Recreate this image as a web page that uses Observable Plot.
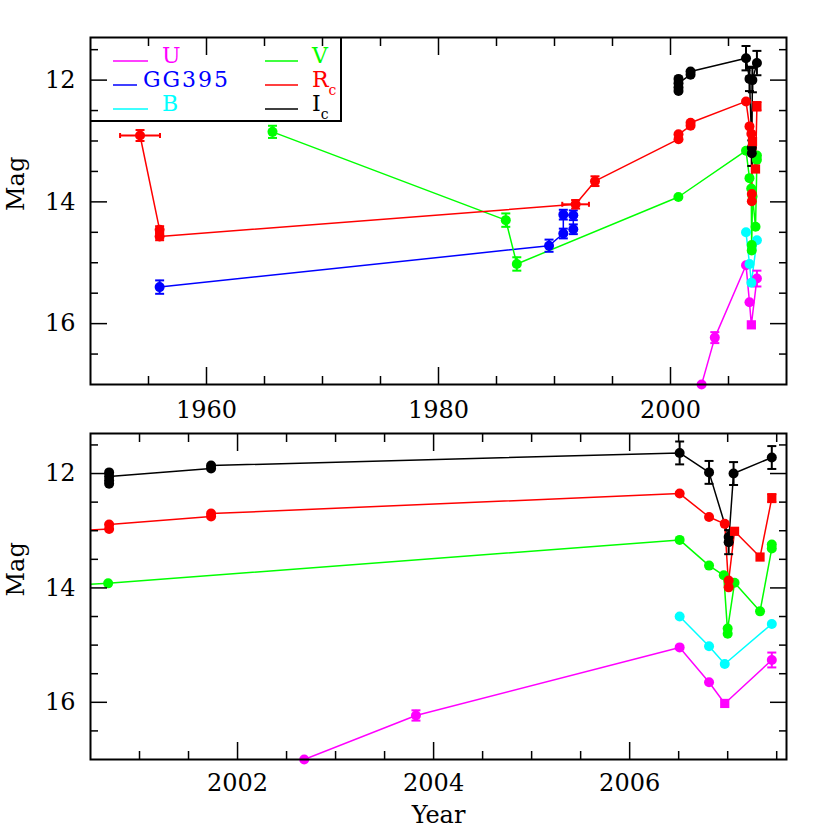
<!DOCTYPE html>
<html><head><meta charset="utf-8">
<script src="https://cdn.jsdelivr.net/npm/d3@7"></script>
<script src="https://cdn.jsdelivr.net/npm/@observablehq/plot@0.6"></script>
<style>
body{margin:0;background:#fff;}
#chart{position:relative;width:830px;height:830px;font-family:"DejaVu Serif",serif;background:#fff;}
#chart > svg{position:absolute;left:0;}
</style></head><body><div id="chart"></div>
<script>
// rows: [year, mag, yErr, xErr, shape]  (shape "c" circle, "s" square)
const U = [
  [2002.68, 17.00, 0, 0, "c"],
  [2003.82, 16.23, 0.09, 0, "c"],
  [2006.51, 15.04, 0, 0, "c"],
  [2006.81, 15.65, 0, 0, "c"],
  [2006.97, 16.02, 0, 0, "s"],
  [2007.45, 15.26, 0.13, 0, "c"]
];
const GG395 = [
  [1955.96, 15.40, 0.11, 0, "c"],
  [1989.53, 14.72, 0.10, 0, "c"],
  [1990.76, 14.52, 0.08, 0, "c"],
  [1990.76, 14.21, 0.08, 0, "c"],
  [1991.62, 14.22, 0.08, 0, "c"],
  [1991.62, 14.45, 0.08, 0, "c"]
];
const B = [
  [2006.51, 14.50, 0, 0, "c"],
  [2006.81, 15.02, 0, 0, "c"],
  [2006.97, 15.33, 0, 0, "c"],
  [2007.45, 14.63, 0, 0, "c"]
];
const V = [
  [1965.69, 12.85, 0.10, 0, "c"],
  [1985.80, 14.30, 0.11, 0, "c"],
  [1986.75, 15.02, 0.11, 0, "c"],
  [2000.68, 13.92, 0, 0, "c"],
  [2006.51, 13.16, 0, 0, "c"],
  [2006.81, 13.61, 0, 0, "c"],
  [2006.96, 13.78, 0, 0, "c"],
  [2007.00, 14.80, 0, 0, "c"],
  [2007.00, 14.71, 0, 0, "c"],
  [2007.07, 13.91, 0, 0, "c"],
  [2007.33, 14.41, 0, 0, "c"],
  [2007.45, 13.31, 0, 0, "c"],
  [2007.45, 13.24, 0, 0, "c"]
];
const Rc = [
  [1954.27, 12.91, 0.09, 1.72, "c"],
  [1955.96, 14.46, 0.06, 0, "c"],
  [1955.96, 14.57, 0.06, 0, "c"],
  [1991.82, 14.04, 0.07, 1.15, "c"],
  [1993.49, 13.66, 0.08, 0, "c"],
  [2000.69, 12.97, 0, 0, "c"],
  [2000.69, 12.89, 0, 0, "c"],
  [2001.73, 12.75, 0, 0, "c"],
  [2001.73, 12.70, 0, 0, "c"],
  [2006.51, 12.35, 0, 0, "c"],
  [2006.81, 12.76, 0, 0, "c"],
  [2006.97, 12.88, 0, 0, "c"],
  [2007.01, 13.99, 0, 0, "c"],
  [2007.01, 13.87, 0, 0, "c"],
  [2007.07, 13.01, 0, 0, "s"],
  [2007.33, 13.46, 0, 0, "s"],
  [2007.45, 12.43, 0.07, 0, "s"]
];
const Ic = [
  [2000.69, 11.98, 0, 0, "c"],
  [2000.69, 12.18, 0, 0, "c"],
  [2000.69, 12.12, 0, 0, "c"],
  [2000.69, 12.05, 0, 0, "c"],
  [2001.73, 11.91, 0, 0, "c"],
  [2001.73, 11.86, 0, 0, "c"],
  [2006.51, 11.64, 0.20, 0, "c"],
  [2006.81, 11.98, 0.20, 0, "c"],
  [2007.01, 13.11, 0, 0, "c"],
  [2007.01, 13.20, 0.21, 0, "c"],
  [2007.06, 12.00, 0.20, 0, "c"],
  [2007.45, 11.72, 0.20, 0, "c"]
];

const bandNames = ["U", "GG395", "B", "V", "Rc", "Ic"];
const bandData = [U, GG395, B, V, Rc, Ic];
const bandColors = ["#ff00ff", "#0000ff", "#00ffff", "#00ff00", "#ff0000", "#000000"];
const legendLabels = ["U", "GG395", "B", "V", "R", "I"];
const legendSubs = ["", "", "", "", "c", "c"];

const topXMajor = [1960, 1980, 2000];
const topXMinor = [1955, 1965, 1970, 1975, 1985, 1990, 1995, 2005];
const botXMajor = [2002, 2004, 2006];
const botXMinor = [2001, 2001.5, 2002.5, 2003, 2003.5, 2004.5, 2005, 2005.5, 2006.5, 2007, 2007.5];
const yMajor = [12, 14, 16];
const yMinor = [11.5, 12.5, 13, 13.5, 14.5, 15, 15.5, 16.5];

const rows = [];
bandData.forEach((arr, b) => arr.forEach(([year, mag, yerr, xerr, shape]) =>
  rows.push({band: bandNames[b], col: bandColors[b], year, mag, yerr, xerr, shape})));

const capH = {draw(ctx, size) { const r = Math.sqrt(size / Math.PI); ctx.moveTo(-r, 0); ctx.lineTo(r, 0); }};
const capV = {draw(ctx, size) { const r = Math.sqrt(size / Math.PI); ctx.moveTo(0, -r); ctx.lineTo(0, r); }};

function panel(cfg) {
  const [x0, x1] = cfg.xDomain;
  const pts = rows.filter(d => d.year >= x0 && d.year <= x1);
  const ye = pts.filter(d => d.yerr > 0);
  const xe = pts.filter(d => d.xerr > 0);
  const blank = () => "";
  const marks = [
    Plot.line(rows, {x: "year", y: "mag", z: "band", stroke: d => d.col, strokeWidth: 1.5, clip: true}),
    Plot.ruleX(ye, {x: "year", y1: d => d.mag - d.yerr, y2: d => d.mag + d.yerr, stroke: d => d.col, strokeWidth: 2}),
    Plot.dot(ye, {x: "year", y: d => d.mag - d.yerr, symbol: capH, r: 4.5, fill: "none", stroke: d => d.col, strokeWidth: 2}),
    Plot.dot(ye, {x: "year", y: d => d.mag + d.yerr, symbol: capH, r: 4.5, fill: "none", stroke: d => d.col, strokeWidth: 2}),
    Plot.ruleY(xe, {y: "mag", x1: d => d.year - d.xerr, x2: d => d.year + d.xerr, stroke: d => d.col, strokeWidth: 2}),
    Plot.dot(xe, {x: d => d.year - d.xerr, y: "mag", symbol: capV, r: 2.5, fill: "none", stroke: d => d.col, strokeWidth: 2}),
    Plot.dot(xe, {x: d => d.year + d.xerr, y: "mag", symbol: capV, r: 2.5, fill: "none", stroke: d => d.col, strokeWidth: 2}),
    Plot.dot(pts.filter(d => d.shape === "c"), {x: "year", y: "mag", r: 5, fill: d => d.col, stroke: "none"}),
    Plot.dot(pts.filter(d => d.shape === "s"), {x: "year", y: "mag", r: 5.2, symbol: "square", fill: d => d.col, stroke: "none"}),
    Plot.frame({strokeWidth: 2}),
    Plot.axisX({anchor: "bottom", ticks: cfg.xMajor, tickSize: 0, tickPadding: cfg.xPad, tickFormat: d => String(d), label: null}),
    Plot.axisX({anchor: "bottom", ticks: cfg.xMajor, tickSize: -17, tickFormat: blank, label: null, strokeWidth: 1.5}),
    Plot.axisX({anchor: "bottom", ticks: cfg.xMinor, tickSize: -8, tickFormat: blank, label: null, strokeWidth: 1.5}),
    Plot.axisX({anchor: "top", ticks: cfg.xMajor, tickSize: -17, tickFormat: blank, label: null, strokeWidth: 1.5}),
    Plot.axisX({anchor: "top", ticks: cfg.xMinor, tickSize: -8, tickFormat: blank, label: null, strokeWidth: 1.5}),
    Plot.axisY({anchor: "left", ticks: yMajor, tickSize: 0, tickPadding: 15, tickFormat: d => String(d), label: null}),
    Plot.axisY({anchor: "left", ticks: yMajor, tickSize: -17, tickFormat: blank, label: null, strokeWidth: 1.5}),
    Plot.axisY({anchor: "left", ticks: yMinor, tickSize: -8, tickFormat: blank, label: null, strokeWidth: 1.5}),
    Plot.axisY({anchor: "right", ticks: yMajor, tickSize: -17, tickFormat: blank, label: null, strokeWidth: 1.5}),
    Plot.axisY({anchor: "right", ticks: yMinor, tickSize: -8, tickFormat: blank, label: null, strokeWidth: 1.5}),
    Plot.text(["Mag"], {frameAnchor: "left", dx: -74, rotate: -90, text: d => d, fontSize: 24})
  ];
  if (cfg.xLabel) marks.push(Plot.text([cfg.xLabel], {frameAnchor: "bottom", dy: 63, lineAnchor: "bottom", text: d => d, fontSize: 24}));
  return Plot.plot({
    width: 830, height: cfg.height,
    marginLeft: 90, marginRight: 44, marginTop: cfg.marginTop, marginBottom: cfg.marginBottom,
    x: {domain: cfg.xDomain},
    y: {domain: [11.3, 17], reverse: true},
    color: {type: "identity"},
    style: {fontFamily: "DejaVu Serif", fontSize: "24px", color: "black", background: "white", overflow: "visible"},
    marks
  });
}

const chart = document.getElementById("chart");
const topPlot = panel({xDomain: [1950, 2010], height: 420, marginTop: 37, marginBottom: 36, xMajor: topXMajor, xMinor: topXMinor, xPad: 16});
topPlot.style.top = "0px";
chart.appendChild(topPlot);
const botPlot = panel({xDomain: [2000.5, 2007.6], height: 410, marginTop: 13, marginBottom: 71, xMajor: botXMajor, xMinor: botXMinor, xPad: 14, xLabel: "Year"});
botPlot.style.top = "420px";
chart.appendChild(botPlot);

// legend overlay (top panel)
const lg = d3.select(chart).append("svg")
  .attr("width", 830).attr("height", 420)
  .style("top", "0px").style("pointer-events", "none")
  .style("font-family", "DejaVu Serif").style("font-size", "22px");
lg.append("path").attr("d", "M90,121H341V37").attr("fill", "none").attr("stroke", "black").attr("stroke-width", 2);
const rowY = [61, 85, 109];
const lineX1 = [113, 113, 113, 265, 265, 265];
const lineX2 = [148, 137, 148, 298, 298, 298];
const textX = [162, 143, 162, 312, 312, 312];
legendLabels.forEach((lab, i) => {
  const y = rowY[i % 3];
  lg.append("line").attr("x1", lineX1[i]).attr("x2", lineX2[i]).attr("y1", y).attr("y2", y)
    .attr("stroke", bandColors[i]).attr("stroke-width", 1.5);
  const t = lg.append("text").attr("x", textX[i]).attr("y", y + 2).attr("fill", bandColors[i])
    .attr("textLength", i === 1 ? 85 : null).text(lab);
  if (legendSubs[i]) t.append("tspan").attr("dy", 8).attr("font-size", 14).text(legendSubs[i]);
});
</script></body></html>
